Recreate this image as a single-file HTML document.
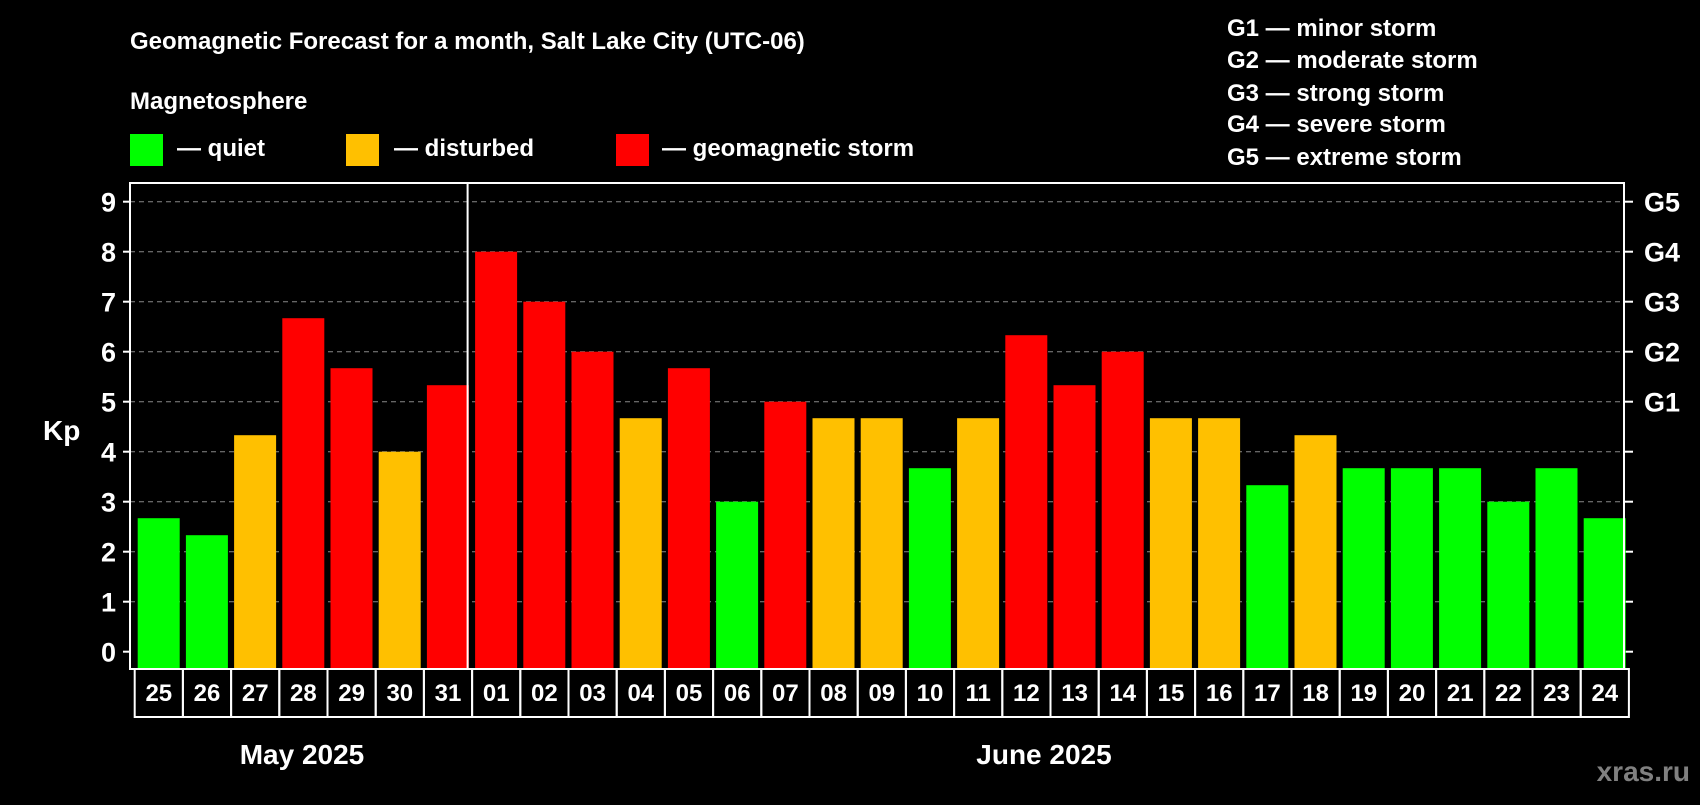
<!DOCTYPE html>
<html><head><meta charset="utf-8"><style>
body{margin:0;background:#000;width:1700px;height:800px;overflow:hidden}
svg text{font-family:"Liberation Sans",Arial,sans-serif;font-weight:bold;fill:#fff}
</style></head><body>
<svg id="chart" width="1700" height="800">
<text x="130" y="49" font-size="24">Geomagnetic Forecast for a month, Salt Lake City (UTC-06)</text>
<text x="130" y="109" font-size="24">Magnetosphere</text>
<rect x="130" y="134" width="33" height="32" fill="#00ff00"/>
<text x="177" y="156" font-size="24">— quiet</text>
<rect x="346" y="134" width="33" height="32" fill="#ffc000"/>
<text x="394" y="156" font-size="24">— disturbed</text>
<rect x="616" y="134" width="33" height="32" fill="#ff0000"/>
<text x="662" y="156" font-size="24">— geomagnetic storm</text>
<g font-size="24">
<text x="1227" y="36">G1 — minor storm</text>
<text x="1227" y="68">G2 — moderate storm</text>
<text x="1227" y="101">G3 — strong storm</text>
<text x="1227" y="132">G4 — severe storm</text>
<text x="1227" y="165">G5 — extreme storm</text>
</g>
<text x="43" y="440" font-size="28">Kp</text>
<text x="302" y="764" font-size="28" text-anchor="middle">May 2025</text>
<text x="1044" y="764" font-size="28" text-anchor="middle">June 2025</text>
<text x="1690" y="781" font-size="28" text-anchor="end" style="fill:#808080">xras.ru</text>
<g id="plot"></g>
</svg>
<script>
const days=["25","26","27","28","29","30","31","01","02","03","04","05","06","07","08","09","10","11","12","13","14","15","16","17","18","19","20","21","22","23","24"];
const kp=[2.67,2.33,4.33,6.67,5.67,4,5.33,8,7,6,4.67,5.67,3,5,4.67,4.67,3.67,4.67,6.33,5.33,6,4.67,4.67,3.33,4.33,3.67,3.67,3.67,3,3.67,2.67];
const yTicks=[0,1,2,3,4,5,6,7,8,9];
const gLabels=["G1","G2","G3","G4","G5"];
const gLevels=[5,6,7,8,9];
const monthSplit=7;
const NS="http://www.w3.org/2000/svg";
const g=document.getElementById('plot');
const L=130,R=1624,T=183,B=669,x0=133.7,cw=48.2;
const y=v=>651.7-v*50;
const x=i=>x0+i*cw;
function mk(t,a){const e=document.createElementNS(NS,t);for(const k in a)e.setAttribute(k,a[k]);g.appendChild(e);return e;}
yTicks.forEach(v=>{
 if(v>0){const l=mk('line',{x1:L,x2:R,y1:y(v),y2:y(v),stroke:'#888','stroke-dasharray':'5,4','stroke-width':1});
 
 }
 const t1=mk('line',{x1:123,x2:L,y1:y(v),y2:y(v),stroke:'#fff','stroke-width':2});
 
 
 const t2=mk('line',{x1:R,x2:1633,y1:y(v),y2:y(v),stroke:'#fff','stroke-width':2});
 
 
 const tx=mk('text',{x:116,y:y(v)+10,'font-size':27,'text-anchor':'end'});tx.textContent=v;
 
 
});
gLabels.forEach((s,i)=>{const t=mk('text',{x:1644,y:y(gLevels[i])+10,'font-size':27});t.textContent=s;
 
 });
kp.forEach((v,i)=>{
 const c=v>=5?'#ff0000':(v>=4?'#ffc000':'#00ff00');
 const r=mk('rect',{x:x(i)+4,y:y(v),width:42,height:y(0)+17.3-y(v),fill:c});
 
 
 const cell=mk('rect',{x:x(i)+1,y:B,width:cw,height:48,fill:'none',stroke:'#fff','stroke-width':2});
 
 
 const t=mk('text',{x:x(i)+1+cw/2,y:701,'font-size':24,'text-anchor':'middle'});t.textContent=days[i];
 
 
});
const frame=mk('rect',{x:L,y:T,width:R-L,height:B-T,fill:'none',stroke:'#fff','stroke-width':2});


const sep=mk('line',{x1:x(monthSplit)-3.5,x2:x(monthSplit)-3.5,y1:T,y2:B,stroke:'#fff','stroke-width':2});


</script>
</body></html>
